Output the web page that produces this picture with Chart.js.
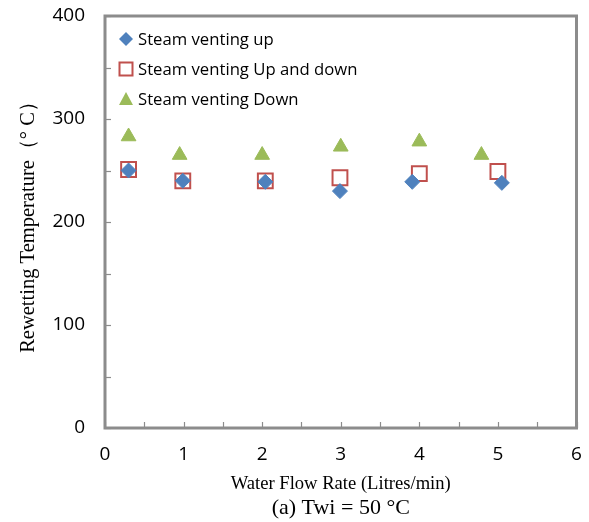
<!DOCTYPE html>
<html>
<head>
<meta charset="utf-8">
<script src="https://cdn.jsdelivr.net/npm/chart.js@4/dist/chart.umd.min.js"></script>
<style>
  html, body { margin: 0; padding: 0; background: #fff; }
  #wrap { width: 589px; height: 522px; position: relative; }
</style>
</head>
<body>
<div id="wrap"><canvas id="scatterChart"></canvas></div>
<script>
var seriesNames = ["Steam venting up", "Steam venting Up and down", "Steam venting Down"];

var upX = [0.30, 0.99, 2.04, 2.99, 3.91, 5.05];
var upY = [250, 240, 239, 230, 239, 238];

var upDownX = [0.30, 0.99, 2.04, 2.99, 4.00, 5.00];
var upDownY = [251, 240, 240, 243, 247, 249];

var downX = [0.30, 0.95, 2.00, 3.00, 4.00, 4.79];
var downY = [283, 265, 265, 273, 278, 265];

var xTicks = [0, 1, 2, 3, 4, 5, 6];
var yTicks = [0, 100, 200, 300, 400];

var caption = "(a) Twi = 50 \u00b0C";

function toPoints(xs, ys) {
    var pts = [];
    for (var i = 0; i < xs.length; i++) {
        pts.push({x: xs[i], y: ys[i]});
    }
    return pts;
}

var frameColor = "#8c8c8c";
var sansFont = "'Open Sans', 'DejaVu Sans', sans-serif";
var serifFont = "'Liberation Serif', 'DejaVu Serif', serif";

// frame, inner tick marks, the legend inside the plot and the caption below
var framePlugin = {
    id: "frame",
    afterDraw: function (chart) {
        var ctx = chart.ctx;
        var area = chart.chartArea;
        var xs = chart.scales.x;
        var ys = chart.scales.y;

        ctx.save();
        ctx.strokeStyle = frameColor;
        ctx.lineWidth = 1.2;
        ys.ticks.forEach(function (t) {
            var py = Math.round(ys.getPixelForValue(t.value)) + 0.5;
            ctx.beginPath();
            ctx.moveTo(area.left, py);
            ctx.lineTo(area.left + 6, py);
            ctx.stroke();
        });
        xs.ticks.forEach(function (t) {
            var px = Math.round(xs.getPixelForValue(t.value)) + 0.5;
            ctx.beginPath();
            ctx.moveTo(px, area.bottom);
            ctx.lineTo(px, area.bottom - 6);
            ctx.stroke();
        });

        ctx.lineWidth = 3;
        ctx.strokeRect(area.left, area.top, area.right - area.left, area.bottom - area.top);

        // legend
        var lx = area.left + 21;
        var ly = area.top + 23;
        ctx.font = "16.7px " + sansFont;
        ctx.textBaseline = "middle";
        ctx.textAlign = "left";
        chart.data.datasets.forEach(function (ds, i) {
            var yy = ly + i * 30;
            ctx.fillStyle = ds.backgroundColor;
            ctx.strokeStyle = ds.borderColor;
            ctx.lineWidth = ds.borderWidth;
            ctx.beginPath();
            if (ds.pointStyle === "rect") {
                ctx.rect(lx - 6.5, yy - 6.5, 13, 13);
                ctx.stroke();
            } else if (ds.pointStyle === "rectRot") {
                ctx.moveTo(lx, yy - 7);
                ctx.lineTo(lx + 7, yy);
                ctx.lineTo(lx, yy + 7);
                ctx.lineTo(lx - 7, yy);
                ctx.closePath();
                ctx.fill();
            } else {
                ctx.moveTo(lx, yy - 7);
                ctx.lineTo(lx + 7, yy + 6);
                ctx.lineTo(lx - 7, yy + 6);
                ctx.closePath();
                ctx.fill();
            }
            ctx.fillStyle = "#000";
            ctx.fillText(ds.label, lx + 12, yy + 1);
        });

        // caption under the axis title
        ctx.font = "22px " + serifFont;
        ctx.textAlign = "center";
        ctx.fillStyle = "#000";
        ctx.fillText(caption, (area.left + area.right) / 2, 508);
        ctx.restore();
    }
};

var scatterData = {
    datasets: [
        {
            label: seriesNames[0],
            data: toPoints(upX, upY),
            pointStyle: "rectRot",
            radius: 7.5,
            backgroundColor: "#4f81bd",
            borderColor: "#4f81bd",
            borderWidth: 1
        },
        {
            label: seriesNames[1],
            data: toPoints(upDownX, upDownY),
            pointStyle: "rect",
            radius: 10.5,
            backgroundColor: "rgba(0,0,0,0)",
            borderColor: "#c0504d",
            borderWidth: 2
        },
        {
            label: seriesNames[2],
            data: toPoints(downX, downY),
            pointStyle: "triangle",
            radius: 8.5,
            backgroundColor: "#9bbb59",
            borderColor: "#9bbb59",
            borderWidth: 1
        }
    ]
};

var scatterOptions = {
    responsive: true,
    maintainAspectRatio: false,
    animation: false,
    layout: {padding: {top: 16, right: 11, left: 0, bottom: 0}},
    plugins: {
        legend: {display: false},
        tooltip: {enabled: false},
        title: {display: false}
    },
    scales: {
        x: {
            type: "linear",
            min: xTicks[0],
            max: xTicks[xTicks.length - 1],
            ticks: {
                stepSize: 0.5,
                color: "#000",
                padding: 15,
                font: {family: sansFont, size: 19},
                callback: function (v) { return xTicks.indexOf(v) >= 0 ? v : ""; }
            },
            grid: {display: false, drawTicks: false},
            border: {display: false},
            title: {
                display: true,
                text: "Water Flow Rate (Litres/min)",
                color: "#000",
                font: {family: serifFont, size: 18.6},
                padding: {top: 4, bottom: 27}
            },
            afterFit: function (scale) {
                scale.height = 94;
                scale.paddingLeft = 0;
                scale.paddingRight = 0;
            }
        },
        y: {
            type: "linear",
            min: yTicks[0],
            max: yTicks[yTicks.length - 1],
            ticks: {
                stepSize: 50,
                color: "#000",
                padding: 20,
                font: {family: sansFont, size: 19},
                callback: function (v) { return yTicks.indexOf(v) >= 0 ? v : ""; }
            },
            grid: {display: false, drawTicks: false},
            border: {display: false},
            title: {
                display: true,
                text: "Rewetting Temperature\uff08\u00b0 C\uff09",
                color: "#000",
                font: {family: serifFont, size: 20.5},
                padding: {top: 16, bottom: 8}
            },
            afterFit: function (scale) {
                scale.width = 105;
                scale.paddingTop = 0;
                scale.paddingBottom = 0;
            }
        }
    }
};

var ctx = document.getElementById("scatterChart").getContext("2d");
new Chart(ctx, {type: "scatter", data: scatterData, options: scatterOptions, plugins: [framePlugin]});
</script>
</body>
</html>
